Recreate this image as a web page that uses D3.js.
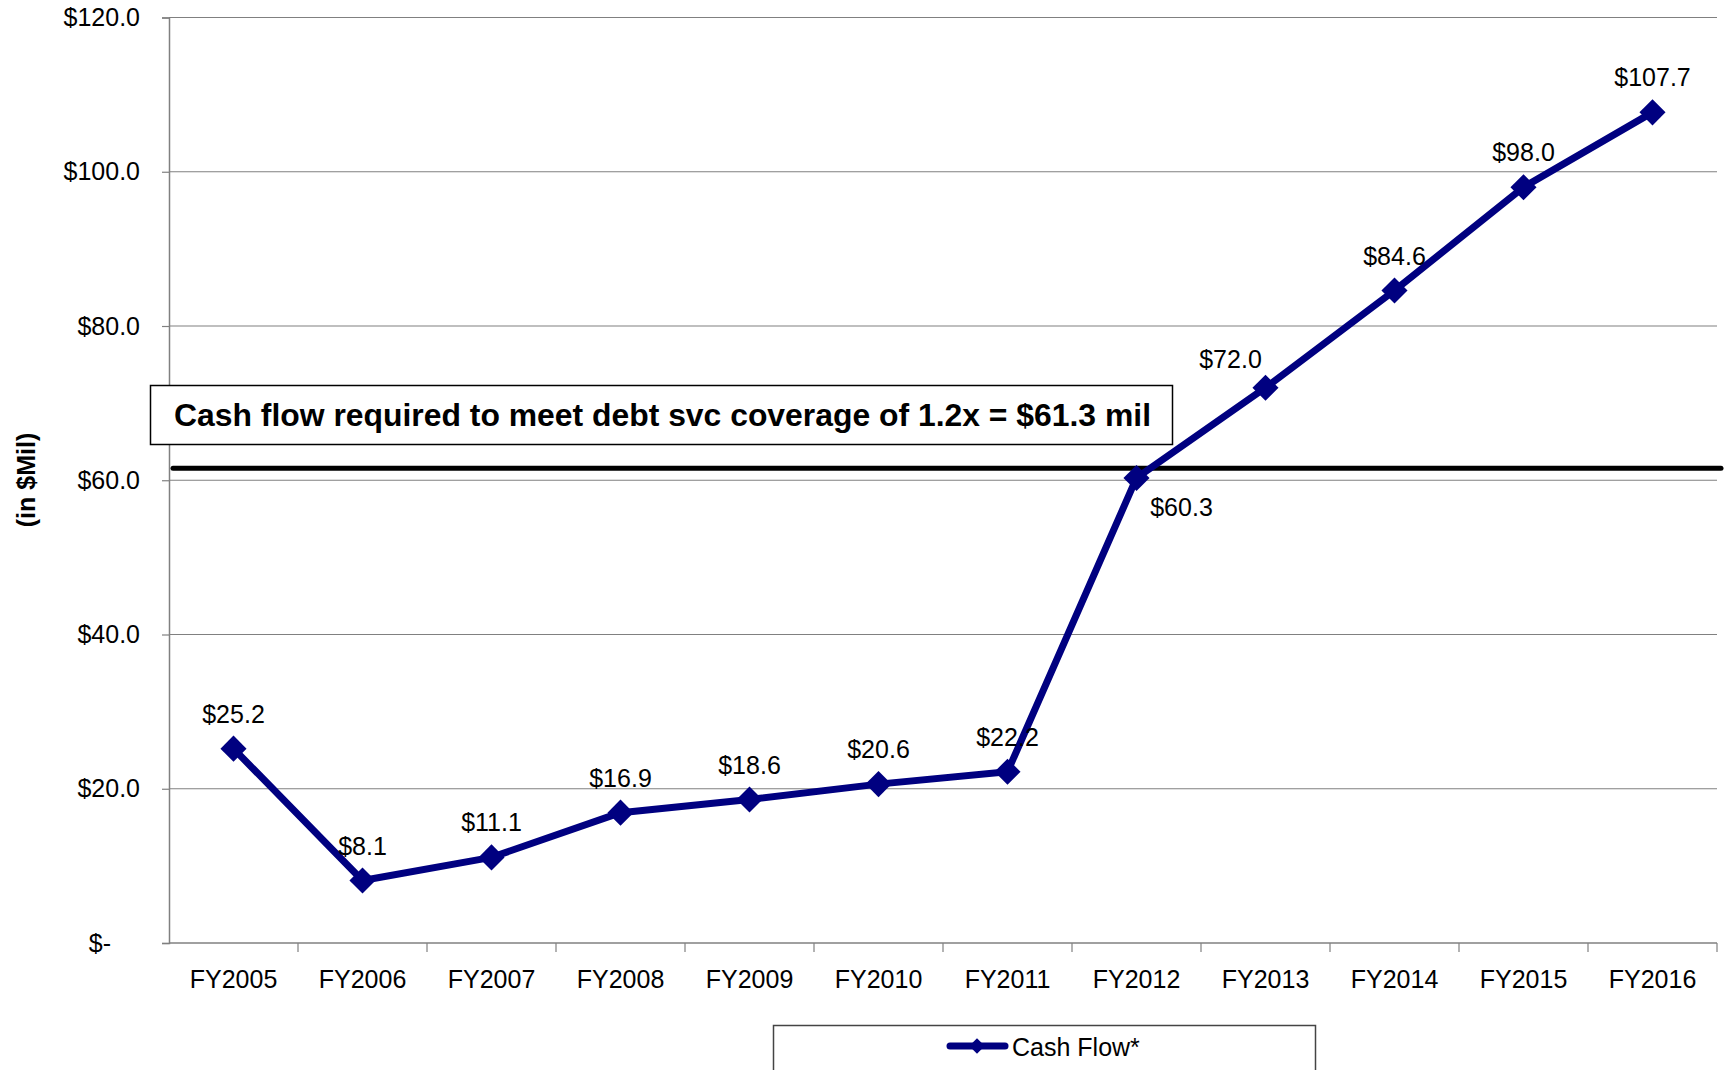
<!DOCTYPE html>
<html>
<head>
<meta charset="utf-8">
<script src="https://cdn.jsdelivr.net/npm/d3@7"></script>
<style>
  body { margin: 0; background: #fff; }
  text { font-family: "Liberation Sans", Arial, sans-serif; }
</style>
</head>
<body>
<div class="chart"></div>
<script>
// chart values
var categories = ["FY2005","FY2006","FY2007","FY2008","FY2009","FY2010","FY2011","FY2012","FY2013","FY2014","FY2015","FY2016"];
var cashFlow = [25.2, 8.1, 11.1, 16.9, 18.6, 20.6, 22.2, 60.3, 72.0, 84.6, 98.0, 107.7];
var yTicks = [0, 20, 40, 60, 80, 100, 120];
var requiredCashFlow = 61.3;
var noteText = "Cash flow required to meet debt svc coverage of 1.2x = $61.3 mil";
var seriesName = "Cash Flow*";

var w = 1725, h = 1070;
var navy = "#000080";

var svg = d3.select("div.chart").append("svg")
    .attr("width", w)
    .attr("height", h);

var x = d3.scaleBand().domain(categories).range([169, 1717]);
var y = d3.scaleLinear().domain([0, 120]).range([943, 17.5]);
var cx = (d, i) => x(categories[i]) + x.bandwidth() / 2;

// gridlines
svg.append("g")
  .selectAll("line")
  .data(yTicks.filter(d => d > 0))
  .join("line")
    .attr("x1", x.range()[0])
    .attr("x2", x.range()[1])
    .attr("y1", d => y(d))
    .attr("y2", d => y(d))
    .attr("stroke", "#808080")
    .attr("stroke-width", 1.2);

// y axis
var yAxis = svg.append("g")
    .attr("transform", `translate(${x.range()[0]},0)`)
    .call(d3.axisLeft(y).tickValues(yTicks).tickSize(7).tickPadding(22)
      .tickFormat(d => d === 0 ? "$-" : "$" + d3.format(".1f")(d)));
yAxis.select(".domain").attr("stroke", "#808080").attr("stroke-width", 1.5);
yAxis.selectAll(".tick line").attr("stroke", "#808080").attr("stroke-width", 1.2);
yAxis.selectAll("text").attr("font-size", 25).attr("fill", "#000").attr("font-family", null);
yAxis.selectAll(".tick").filter(d => d === 0).select("text").attr("dx", -29);

// x axis labels
var xAxis = svg.append("g")
    .attr("transform", `translate(0,${y(0)})`)
    .call(d3.axisBottom(x).tickSize(0).tickPadding(27));
xAxis.select(".domain").remove();
xAxis.selectAll("text").attr("font-size", 25).attr("fill", "#000").attr("font-family", null);

// x axis line and boundary ticks
svg.append("line")
    .attr("x1", x.range()[0]).attr("x2", x.range()[1])
    .attr("y1", y(0)).attr("y2", y(0))
    .attr("stroke", "#808080").attr("stroke-width", 1.5);
svg.append("g")
  .selectAll("line")
  .data(categories)
  .join("line")
    .attr("x1", d => x(d) + x.step())
    .attr("x2", d => x(d) + x.step())
    .attr("y1", y(0))
    .attr("y2", y(0) + 9)
    .attr("stroke", "#808080")
    .attr("stroke-width", 1.2);

// y axis title
svg.append("text")
    .attr("transform", `translate(35,480) rotate(-90)`)
    .attr("text-anchor", "middle")
    .attr("font-size", 25)
    .attr("font-weight", "bold")
    .text("(in $Mil)");

// required cash flow line (drawn slightly high, as in the original)
svg.append("line")
    .attr("x1", x.range()[0] + 4)
    .attr("x2", w - 4)
    .attr("y1", y(requiredCashFlow) - 2)
    .attr("y2", y(requiredCashFlow) - 2)
    .attr("stroke", "#000")
    .attr("stroke-width", 5)
    .attr("stroke-linecap", "round");

// note box
var note = svg.append("g");
note.append("rect")
    .attr("x", 150.5).attr("y", 385.5)
    .attr("width", 1022).attr("height", 59)
    .attr("fill", "#fff")
    .attr("stroke", "#000")
    .attr("stroke-width", 1.5);
note.append("text")
    .attr("x", 174).attr("y", 426)
    .attr("font-size", 31.5)
    .attr("font-weight", "bold")
    .attr("textLength", 977)
    .attr("lengthAdjust", "spacingAndGlyphs")
    .text(noteText);

// series line
var line = d3.line().x(cx).y(d => y(d));

svg.append("path")
    .datum(cashFlow)
    .attr("d", line)
    .attr("fill", "none")
    .attr("stroke", navy)
    .attr("stroke-width", 7)
    .attr("stroke-linejoin", "round");

var diamond = d3.symbol().type(d3.symbolSquare).size(340);
svg.append("g")
  .selectAll("path")
  .data(cashFlow)
  .join("path")
    .attr("d", diamond)
    .attr("transform", (d, i) => `translate(${cx(d, i)},${y(d)}) rotate(45)`)
    .attr("fill", navy);

// data labels (a few are nudged like in the original)
var labelDx = [0, 0, 0, 0, 0, 0, 0, 45, -35, 0, 0, 0];
var labelDy = [-26, -26, -26, -26, -26, -26, -26, 38, -20, -26, -26, -26];
svg.append("g")
  .selectAll("text")
  .data(cashFlow)
  .join("text")
    .attr("x", (d, i) => cx(d, i) + labelDx[i])
    .attr("y", (d, i) => y(d) + labelDy[i])
    .attr("text-anchor", "middle")
    .attr("font-size", 25)
    .text(d => "$" + d3.format(".1f")(d));

// legend
var legend = svg.append("g");
legend.append("rect")
    .attr("x", 773.5).attr("y", 1025.5)
    .attr("width", 542).attr("height", 70)
    .attr("fill", "#fff")
    .attr("stroke", "#444")
    .attr("stroke-width", 1.5);
legend.append("line")
    .attr("x1", 950).attr("x2", 1005)
    .attr("y1", 1046).attr("y2", 1046)
    .attr("stroke", navy)
    .attr("stroke-width", 7)
    .attr("stroke-linecap", "round");
legend.append("path")
    .attr("d", d3.symbol().type(d3.symbolSquare).size(120))
    .attr("transform", "translate(977,1046) rotate(45)")
    .attr("fill", navy);
legend.append("text")
    .attr("x", 1012).attr("y", 1056)
    .attr("font-size", 25)
    .text(seriesName);
</script>
</body>
</html>
